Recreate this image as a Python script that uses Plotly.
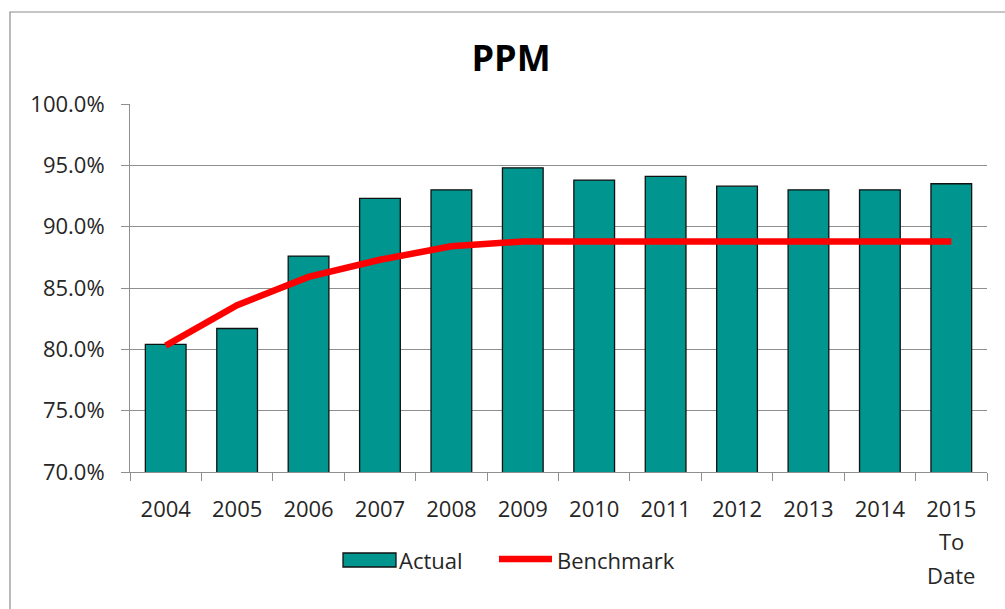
import plotly.graph_objects as go

categories = ["2004", "2005", "2006", "2007", "2008", "2009", "2010",
              "2011", "2012", "2013", "2014", "2015<br>To<br>Date"]
actual = [80.4, 81.7, 87.6, 92.3, 93.0, 94.8, 93.8, 94.1, 93.3, 93.0, 93.0, 93.5]
benchmark = [80.3, 83.6, 85.9, 87.3, 88.4, 88.8, 88.8, 88.8, 88.8, 88.8, 88.8, 88.8]
y_ticks = [70, 75, 80, 85, 90, 95, 100]
y_labels = [f"{v:.1f}%" for v in y_ticks]

W, H = 1005, 609
L, R, T, B = 130, 18, 104, 137
PW, PH = W - L - R, H - T - B

def px(x):
    return (x - L) / PW

def py(y):
    return (H - B - y) / PH

FONT = "Open Sans"
TXT = "#262626"
GRID = "#8f8f8f"
TEAL = "#00958F"
FS = 22

# first line of each category as tick text, extra lines as annotations (wider line spacing)
tick_text = [c.split("<br>")[0] for c in categories]

fig = go.Figure()
fig.add_trace(go.Bar(x=categories, y=actual, name="Actual",
                     marker=dict(color=TEAL, line=dict(color="#111111", width=1.3)),
                     showlegend=False))
fig.add_trace(go.Scatter(x=categories, y=benchmark, name="Benchmark", mode="lines",
                         line=dict(color="#FF0000", width=6.5), showlegend=False))

shapes = [
    # outer chart border
    dict(type="rect", xref="paper", yref="paper", x0=px(10), x1=px(1012),
         y0=py(620), y1=py(12), line=dict(color="#8c8c8c", width=1.2), layer="below"),
    # legend symbols
    dict(type="rect", xref="paper", yref="paper", x0=px(343), x1=px(396),
         y0=py(567), y1=py(553), fillcolor=TEAL, line=dict(color="#111111", width=1.3)),
    dict(type="line", xref="paper", yref="paper", x0=px(499), x1=px(552),
         y0=py(559), y1=py(559), line=dict(color="#FF0000", width=6.5)),
]
annotations = [
    dict(text="Actual", xref="paper", yref="paper", x=px(397), y=py(560),
         xanchor="left", yanchor="middle", showarrow=False,
         font=dict(family=FONT, size=FS, color=TXT)),
    dict(text="Benchmark", xref="paper", yref="paper", x=px(555), y=py(560),
         xanchor="left", yanchor="middle", showarrow=False,
         font=dict(family=FONT, size=FS, color=TXT)),
]
for c in categories:
    extra = c.split("<br>")[1:]
    for i, line in enumerate(extra):
        annotations.append(dict(text=line, xref="x", yref="paper", x=c,
                                y=py(541 + 34 * i), xanchor="center", yanchor="middle",
                                showarrow=False,
                                font=dict(family=FONT, size=FS, color=TXT)))

fig.update_layout(
    width=W, height=H,
    margin=dict(l=L, r=R, t=T, b=B),
    paper_bgcolor="white", plot_bgcolor="white",
    bargap=0.43,
    title=dict(text="<b>PPM</b>", xref="container", x=511 / W, xanchor="center",
               y=1 - 58 / H, yanchor="middle", yref="container",
               font=dict(family=FONT, size=36, color="#000000")),
    font=dict(family=FONT, size=FS, color=TXT),
    shapes=shapes,
    annotations=annotations,
    xaxis=dict(type="category", showline=True, linecolor=GRID, linewidth=1,
               tickvals=categories, ticktext=tick_text,
               ticks="outside", tickson="boundaries", ticklen=8, tickcolor=GRID,
               ticklabelstandoff=18,
               showgrid=False, tickfont=dict(family=FONT, size=FS, color=TXT)),
    yaxis=dict(range=[70, 100], tickvals=y_ticks, ticktext=y_labels,
               showline=True, linecolor=GRID, linewidth=1,
               ticks="outside", ticklen=8, tickcolor=GRID, ticklabelstandoff=12,
               showgrid=True, gridcolor=GRID, gridwidth=1, zeroline=False,
               tickfont=dict(family=FONT, size=FS, color=TXT)),
)

fig.write_html("out.html", config={"responsive": False, "displayModeBar": False},
               post_script="document.body.style.margin='0';document.body.style.overflow='hidden';")
